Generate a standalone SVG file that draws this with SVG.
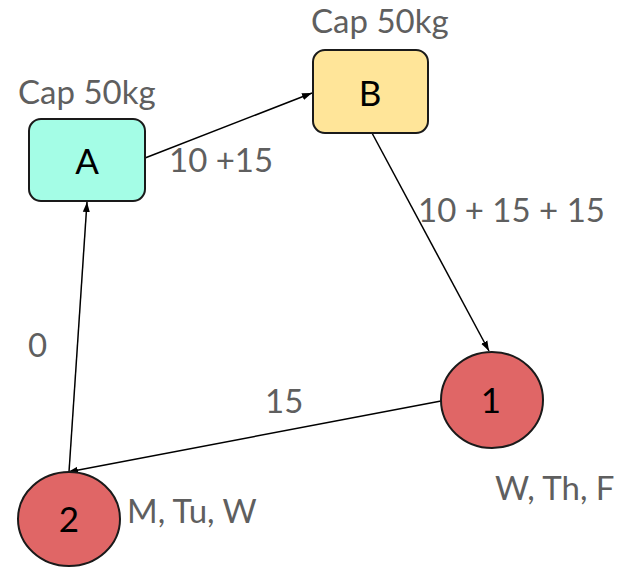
<svg xmlns="http://www.w3.org/2000/svg" width="623" height="567" viewBox="0 0 623 567">
<style>
.lbl{font-family:Lato,"Liberation Sans",sans-serif;font-size:33px;fill:#5f5f5f}
.nt{font-family:Lato,"Liberation Sans",sans-serif;font-size:35px;fill:#000;text-anchor:middle}
.edge{stroke:#000;stroke-width:1.5;fill:none;marker-end:url(#ah)}
.sh{stroke:#1a1a1a;stroke-width:2}
</style>
<defs>
<marker id="ah" viewBox="0 0 10 10" refX="10" refY="5" markerWidth="10" markerHeight="10" markerUnits="userSpaceOnUse" orient="auto">
<path d="M0,1.5 L10,5 L0,8.5 z" fill="#000"/>
</marker>
</defs>
<rect width="623" height="567" fill="#fff"/>
<g id="edges">
<line class="edge" x1="145" y1="158" x2="312" y2="93"/>
<line class="edge" x1="372" y1="133" x2="489" y2="351"/>
<line class="edge" x1="441" y1="401" x2="68" y2="472"/>
<line class="edge" x1="69" y1="472" x2="87" y2="202"/>
</g>
<g id="nodeA">
<rect class="sh" x="29" y="119" width="116" height="82" rx="12" fill="#a4fde6"/>
<text class="nt" x="87" y="174">A</text>
</g>
<g id="nodeB">
<rect class="sh" x="313" y="50" width="115" height="83" rx="12" fill="#ffe599"/>
<text class="nt" x="370" y="106">B</text>
</g>
<g id="node1">
<ellipse class="sh" cx="492" cy="400" rx="51" ry="48" fill="#e06666"/>
<text class="nt" x="491" y="413">1</text>
</g>
<g id="node2">
<ellipse class="sh" cx="69" cy="519" rx="51" ry="47" fill="#e06666"/>
<text class="nt" x="69" y="532">2</text>
</g>
<g id="labels">
<text class="lbl" x="18" y="104">Cap 50kg</text>
<text class="lbl" x="311" y="33">Cap 50kg</text>
<text class="lbl" x="169" y="172">10 +15</text>
<text class="lbl" x="418" y="222">10 + 15 + 15</text>
<text class="lbl" x="28" y="357">0</text>
<text class="lbl" x="265" y="413">15</text>
<text class="lbl" x="495" y="500">W, Th, F</text>
<text class="lbl" x="127" y="523">M, Tu, W</text>
</g>
</svg>
